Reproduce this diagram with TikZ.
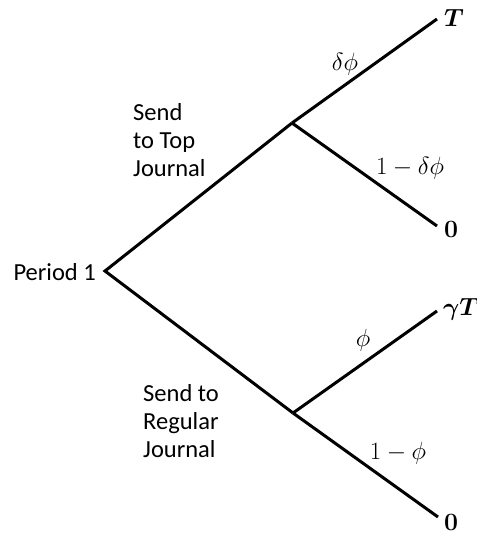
\documentclass[tikz,border=0pt]{standalone}
\usepackage{amsmath}
\usepackage[no-math]{fontspec}
\setmainfont{Carlito}
\begin{document}
\begin{tikzpicture}[x=1pt,y=-1pt,
  branch/.style={line width=3pt},
  lbl/.style={font=\fontsize{23}{28}\selectfont, inner sep=0pt},
  txt/.style={font=\fontsize{24.5}{28}\selectfont, inner sep=0pt, align=left, anchor=west}]
\useasboundingbox (0,0) rectangle (477,536);
% decision points and outcomes
\coordinate (root) at (105,271);
\coordinate (top) at (292,123);
\coordinate (bot) at (293,413);
\coordinate (tT) at (437,19);
\coordinate (t0) at (437,226);
\coordinate (bG) at (437,311);
\coordinate (b0) at (438,517);
% branches
\draw[branch, line join=miter] (top) -- (root) -- (bot);
\draw[branch] (top) -- (tT);
\draw[branch] (top) -- (t0);
\draw[branch] (bot) -- (bG);
\draw[branch] (bot) -- (b0);
% labels
\node[txt, anchor=east] (per) at (96,272) {Period 1};
\node[txt] (sendtop) at (133,140) {Send\\to Top\\Journal};
\node[txt] (sendreg) at (143,421) {Send to\\Regular\\Journal};
\node[lbl] (pdf) at (345,64) {$\delta\phi$};
\node[lbl] (pnf) at (410,168) {$1-\delta\phi$};
\node[lbl] (pf) at (363,340) {$\phi$};
\node[lbl] (pnf2) at (398,453) {$1-\phi$};
\node[lbl, anchor=west] (oT) at (444,18) {$\boldsymbol{T}$};
\node[lbl, anchor=west] (o0) at (444,229) {$\mathbf{0}$};
\node[lbl, anchor=west] (oG) at (443,309) {$\boldsymbol{\gamma T}$};
\node[lbl, anchor=west] (o02) at (444,522) {$\mathbf{0}$};
\end{tikzpicture}
\end{document}
